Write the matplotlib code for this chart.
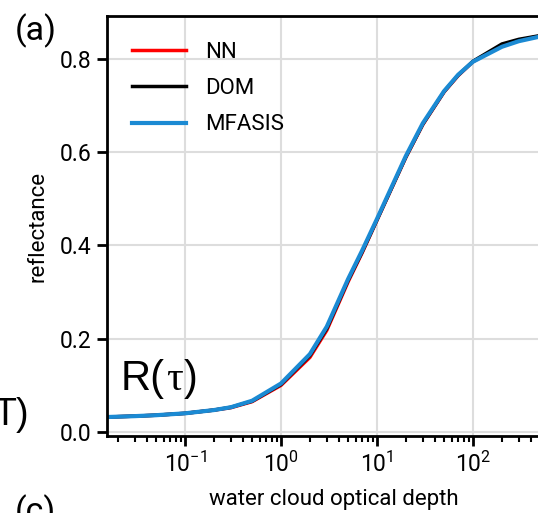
import matplotlib
matplotlib.use("Agg")
import matplotlib.pyplot as plt
from matplotlib.ticker import LogLocator
from matplotlib.transforms import offset_copy
import numpy as np

main_font = 'Roboto'
plt.rcParams['font.family'] = [main_font, 'DejaVu Sans']
plt.rcParams['mathtext.fontset'] = 'custom'
plt.rcParams['mathtext.rm'] = main_font
plt.rcParams['mathtext.it'] = main_font
plt.rcParams['mathtext.default'] = 'regular'

tau = [0.015, 0.03, 0.05, 0.1, 0.2, 0.3, 0.5, 1, 2, 3, 5, 7, 10, 20, 30, 50, 70, 100, 200, 300, 500, 800]
dom = [0.032, 0.034, 0.036, 0.040, 0.047, 0.053, 0.066, 0.102, 0.164, 0.222, 0.325, 0.386, 0.455, 0.59, 0.66, 0.73, 0.765, 0.795, 0.832, 0.842, 0.850, 0.853]
nn = [0.032, 0.034, 0.036, 0.040, 0.047, 0.052, 0.065, 0.100, 0.160, 0.218, 0.322, 0.384, 0.454, 0.589, 0.659, 0.729, 0.764, 0.794, 0.829, 0.840, 0.849, 0.852]
mfasis = [0.032, 0.034, 0.036, 0.040, 0.047, 0.053, 0.067, 0.104, 0.167, 0.226, 0.328, 0.389, 0.457, 0.592, 0.662, 0.731, 0.766, 0.794, 0.826, 0.838, 0.848, 0.852]

W, H = 538, 513
fig = plt.figure(figsize=(W/100, H/100), dpi=100)
left, right, top, bottom = 107, 560, 16, 436
ax = fig.add_axes([left/W, 1-bottom/H, (right-left)/W, (bottom-top)/H])

ax.plot(tau, nn, color='#ff0000', lw=2.5, label='NN')
ax.plot(tau, dom, color='#000000', lw=2.5, label='DOM')
ax.plot(tau, mfasis, color='#1b8ad3', lw=3, label='MFASIS')

ax.set_xscale('log')
ax.set_xlim(0.0154, 10**(2+(right-473)/96))
ax.set_ylim(-0.0086, 0.892)
ax.set_yticks([0.0, 0.2, 0.4, 0.6, 0.8])
ax.set_xticks([0.1, 1, 10, 100])
ax.xaxis.set_minor_locator(LogLocator(base=10, subs=np.arange(2, 10), numticks=20))
ax.grid(True, which='major', color='#dddddd', lw=1.5)
ax.set_axisbelow(True)

for s in ax.spines.values():
    s.set_linewidth(2)
ax.tick_params(axis='both', which='major', direction='out', length=7, width=2, labelsize=16.5, pad=4)
ax.tick_params(axis='x', which='minor', direction='out', length=4, width=1.5)

ax.set_xlabel('water cloud optical depth', fontsize=16, labelpad=9)
ax.set_ylabel('reflectance', fontsize=16, labelpad=8)

leg = ax.legend(loc='upper left', bbox_to_anchor=(0.036, 0.959), borderaxespad=0, frameon=False,
                fontsize=16, handlelength=2.4, handletextpad=0.86, labelspacing=0.68)

fig.text(15/W, 1-40/H, '(a)', fontsize=24.5, ha='left', va='baseline')
fig.text(-7/W, 1-425/H, 'T)', fontsize=27, ha='left', va='baseline', family='Liberation Sans')
fig.text(15/W, 1-521/H, '(c)', fontsize=24.5, ha='left', va='baseline')

# R(tau) label composed of sans and serif parts
fig.canvas.draw()
renderer = fig.canvas.get_renderer()
x0, y0 = 121/W, 1-390/H
t1 = fig.text(x0, y0, 'R(', fontsize=30, ha='left', va='baseline', family='Liberation Sans')
w1 = t1.get_window_extent(renderer).width
t2 = fig.text(x0, y0, '\u03c4', fontsize=30, ha='left', va='baseline', family='Liberation Serif',
              transform=offset_copy(fig.transFigure, fig=fig, x=w1 + 1, y=0, units='dots'))
w2 = t2.get_window_extent(renderer).width
fig.text(x0, y0, ')', fontsize=30, ha='left', va='baseline', family='Liberation Sans',
         transform=offset_copy(fig.transFigure, fig=fig, x=w1 + w2 + 2, y=0, units='dots'))

fig.savefig('out.png', dpi=100)
